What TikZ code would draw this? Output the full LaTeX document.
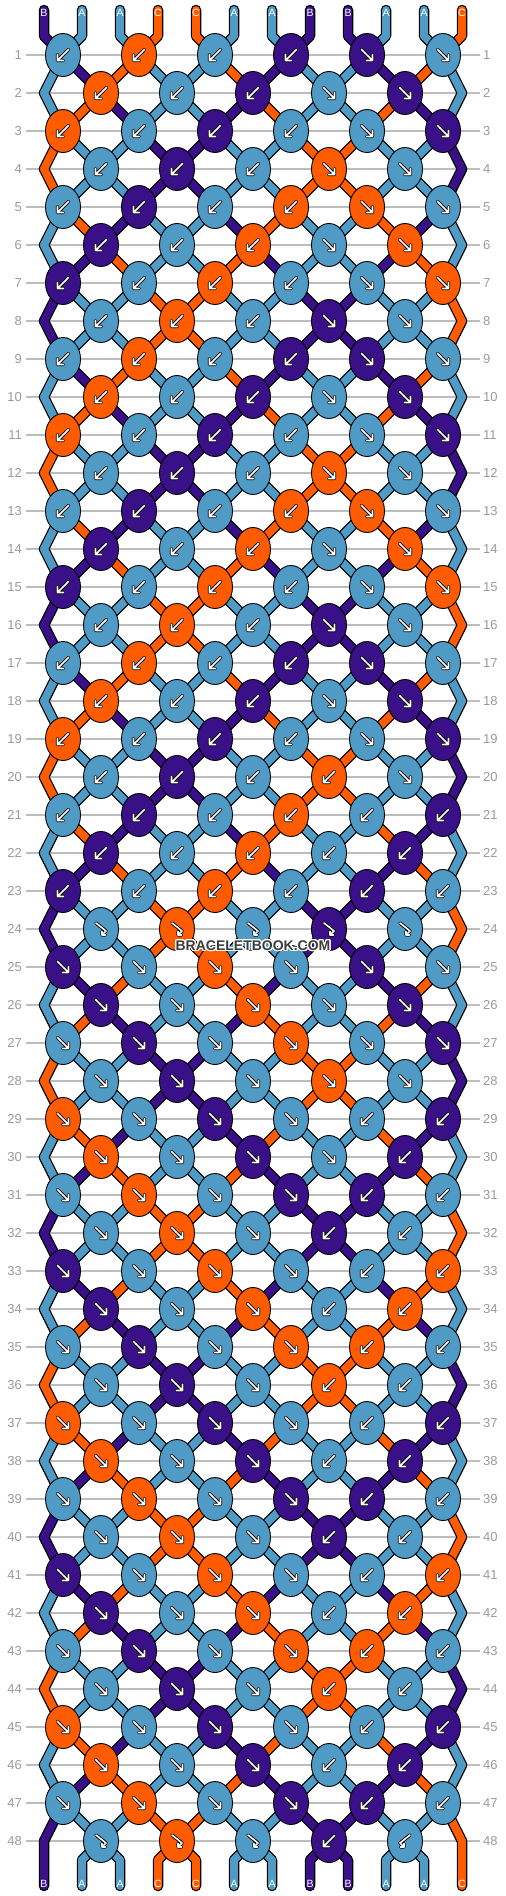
\documentclass[tikz,border=0pt]{standalone}
\usepackage{fontspec}
\setmainfont{Liberation Sans}
\usepackage[copies]{contour}
\contourlength{1.2pt}
\usetikzlibrary{shapes.geometric}

\definecolor{strA}{HTML}{4F9BC5}
\definecolor{strB}{HTML}{3A1088}
\definecolor{strC}{HTML}{FF5B00}
\definecolor{linegray}{HTML}{BDBDBD}
\definecolor{numgray}{HTML}{9A9A9A}
\definecolor{markgray}{HTML}{3C3C3C}

\pgfdeclarelayer{grid}
\pgfdeclarelayer{threads}
\pgfsetlayers{grid,threads,main}

\newcommand\swapthreads{%
    \expandafter\xdef\csname s-\row-\lp\endcsname{\colR}%
    \expandafter\xdef\csname s-\row-\rp\endcsname{\colL}}

\tikzset{
    knot/.style={ellipse, draw=black, line width=0.9pt, minimum width=35pt, minimum height=43pt, inner sep=0pt},
    threadout/.style={line width=10.5pt, black, line cap=round, line join=round},
    threadin/.style={line width=8pt, line cap=round, line join=round},
    iconout/.style={line width=3.4pt, black, line cap=round, line join=round},
    iconin/.style={line width=1.6pt, white, line cap=round, line join=round},
    rownum/.style={text=numgray, inner sep=0pt, font=\fontsize{13}{13}\selectfont},
    gridline/.style={linegray, line width=1.2pt},
    endlabel/.style={text=white, inner sep=0pt, font=\fontsize{10.5}{10.5}\selectfont},
    watermark/.style={text=markgray, inner sep=0pt, font=\bfseries\fontsize{14}{14}\selectfont},
    % knot symbols
    pics/iconf/.style={code={
        \draw[iconout] (-5.5,-5.5) -- (5.5,5.5) (5.5,-0.5) -- (5.5,5.5) -- (-0.5,5.5);
        \draw[iconin] (-5.5,-5.5) -- (5.5,5.5) (5.5,-0.5) -- (5.5,5.5) -- (-0.5,5.5);}},
    pics/iconb/.style={code={
        \draw[iconout] (5.5,-5.5) -- (-5.5,5.5) (-5.5,-0.5) -- (-5.5,5.5) -- (0.5,5.5);
        \draw[iconin] (5.5,-5.5) -- (-5.5,5.5) (-5.5,-0.5) -- (-5.5,5.5) -- (0.5,5.5);}},
    pics/iconF/.style={code={
        \draw[iconout] (-5,-6) -- (5,2) -- (1,6) (1,2.5) -- (1,6) -- (4.5,6);
        \draw[iconin] (-5,-6) -- (5,2) -- (1,6) (1,2.5) -- (1,6) -- (4.5,6);}},
    pics/iconB/.style={code={
        \draw[iconout] (5,-6) -- (-5,2) -- (-1,6) (-1,2.5) -- (-1,6) -- (-4.5,6);
        \draw[iconin] (5,-6) -- (-5,2) -- (-1,6) (-1,2.5) -- (-1,6) -- (-4.5,6);}}
}

\begin{document}
\begin{tikzpicture}[x=1pt, y=-1pt]
\useasboundingbox (0,0) rectangle (506,1896);

% thread ends and starting colours
\foreach \col [count=\pos] in {B,A,A,C,C,A,A,B,B,A,A,C} {
    \expandafter\xdef\csname s-0-\pos\endcsname{\col}
    \pgfmathsetmacro\x{44+38*(\pos-1)}
    \coordinate (top-\pos) at (\x,10);
    \coordinate (a-0-\pos) at (\x,36);
    \coordinate (a-49-\pos) at (\x,1860);
    \coordinate (bot-\pos) at (\x,1886);
}

% rows of knots
\foreach \row/\types in {
    1/{b,b,b,b,f,f}, 2/{b,b,b,f,f}, 3/{b,b,b,b,f,f}, 4/{b,b,b,f,f},
    5/{b,b,b,b,f,f}, 6/{b,b,b,f,f}, 7/{b,b,b,b,f,f}, 8/{b,b,b,f,f},
    9/{b,b,b,b,f,f}, 10/{b,b,b,f,f}, 11/{b,b,b,b,f,f}, 12/{b,b,b,f,f},
    13/{b,b,b,b,f,f}, 14/{b,b,b,f,f}, 15/{b,b,b,b,f,f}, 16/{b,b,b,f,f},
    17/{b,b,b,b,f,f}, 18/{b,b,b,f,f}, 19/{b,b,b,b,f,f}, 20/{b,b,b,b,f},
    21/{b,b,b,b,b,b}, 22/{b,b,b,b,b}, 23/{b,b,b,b,b,b}, 24/{F,F,F,F,F},
    25/{f,f,f,f,f,f}, 26/{f,f,f,f,f}, 27/{f,f,f,f,f,f}, 28/{f,f,f,f,f},
    29/{f,f,f,f,b,b}, 30/{f,f,f,f,b}, 31/{f,f,f,f,b,b}, 32/{f,f,f,b,b},
    33/{f,f,f,f,b,b}, 34/{f,f,f,b,b}, 35/{f,f,f,f,b,b}, 36/{f,f,f,b,b},
    37/{f,f,f,f,b,b}, 38/{f,f,f,b,b}, 39/{f,f,f,f,b,b}, 40/{f,f,f,b,b},
    41/{f,f,f,f,b,b}, 42/{f,f,f,b,b}, 43/{f,f,f,f,b,b}, 44/{f,f,f,b,b},
    45/{f,f,f,f,b,b}, 46/{f,f,f,b,b}, 47/{f,f,f,f,b,b}, 48/{F,F,F,b,B}} {
    \pgfmathtruncatemacro\prev{\row-1}
    \pgfmathtruncatemacro\off{mod(\row+1,2)}
    \pgfmathsetmacro\y{55+38*(\row-1)}
    \foreach \pos in {1,...,12} {
        \expandafter\xdef\csname s-\row-\pos\endcsname{\csname s-\prev-\pos\endcsname}
    }
    \ifnum\off=1
        \coordinate (a-\row-1) at (44,\y);
        \coordinate (a-\row-12) at (462,\y);
    \fi
    \node[rownum, anchor=east] (ln-\row) at (22,\y) {\row};
    \node[rownum, anchor=west] (rn-\row) at (483,\y) {\row};
    \begin{pgfonlayer}{grid}
        \draw[gridline] ([xshift=4pt]ln-\row.east) -- ([xshift=-3pt]rn-\row.west);
    \end{pgfonlayer}
    \foreach \kt [count=\kn] in \types {
        \pgfmathtruncatemacro\lp{2*\kn-1+\off}
        \pgfmathtruncatemacro\rp{\lp+1}
        \pgfmathsetmacro\x{44+38*(\lp-1)+19}
        \edef\colL{\csname s-\prev-\lp\endcsname}
        \edef\colR{\csname s-\prev-\rp\endcsname}
        \edef\kcol{str\colR}
        \if f\kt \edef\kcol{str\colL}\fi
        \if F\kt \edef\kcol{str\colL}\fi
        \if f\kt \swapthreads\fi
        \if b\kt \swapthreads\fi
        \node[knot, fill=\kcol] (k-\row-\lp) at (\x,\y) {};
        \coordinate (a-\row-\lp) at (k-\row-\lp.center);
        \coordinate (a-\row-\rp) at (k-\row-\lp.center);
        \if f\kt \pic at (k-\row-\lp.center) {iconf};\fi
        \if b\kt \pic at (k-\row-\lp.center) {iconb};\fi
        \if F\kt \pic at (k-\row-\lp.center) {iconF};\fi
        \if B\kt \pic at (k-\row-\lp.center) {iconB};\fi
    }
}

% threads
\begin{pgfonlayer}{threads}
    \foreach \pos in {1,...,12} {
        \draw[threadout] (top-\pos) -- (a-0-\pos)
            \foreach \row in {1,...,49} {-- (a-\row-\pos)} -- (bot-\pos);
    }
    \foreach \pos in {1,...,12} {
        \edef\tcol{str\csname s-0-\pos\endcsname}
        \draw[threadin, draw=\tcol] (top-\pos) -- (a-0-\pos);
        \edef\tcol{str\csname s-48-\pos\endcsname}
        \draw[threadin, draw=\tcol] (a-49-\pos) -- (bot-\pos);
        \foreach \row in {1,...,49} {
            \pgfmathtruncatemacro\prev{\row-1}
            \edef\tcol{str\csname s-\prev-\pos\endcsname}
            \draw[threadin, draw=\tcol] (a-\prev-\pos) -- (a-\row-\pos);
        }
    }
\end{pgfonlayer}

% letters at the thread ends
\foreach \pos in {1,...,12} {
    \node[endlabel] (lt-\pos) at ([yshift=-2.5pt]top-\pos) {\csname s-0-\pos\endcsname};
    \node[endlabel] (lb-\pos) at ([yshift=2.3pt]bot-\pos) {\csname s-48-\pos\endcsname};
}

\node[watermark] (mark) at (253,946) {\contour{white}{BRACELETBOOK.COM}};
\end{tikzpicture}
\end{document}
